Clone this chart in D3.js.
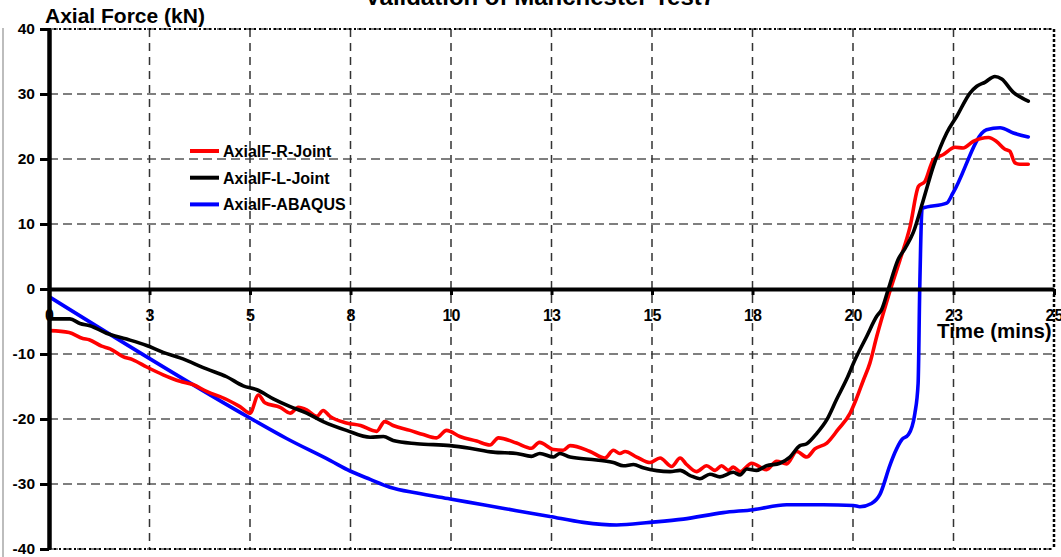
<!DOCTYPE html>
<html>
<head>
<meta charset="utf-8">
<script src="https://cdn.jsdelivr.net/npm/d3@7"></script>
<style>
  html, body { margin: 0; padding: 0; background: #fff; }
  svg { display: block; font-family: "Liberation Sans", Arial, sans-serif; }
</style>
</head>
<body>
<svg id="chart" width="1061" height="557"></svg>
<script>
// Axial force in the joints against fire time (minutes)
const rTime  = [0.02,0.5,0.84,1.0,1.31,1.52,1.84,2.09,2.43,2.84,3.26,3.58,3.92,4.42,4.75,5.0,5.21,5.37,5.75,6.0,6.2,6.41,6.66,6.82,6.99,7.4,7.75,8.15,8.35,8.56,8.98,9.31,9.64,9.89,10.22,10.64,10.97,11.18,11.63,12.0,12.2,12.55,12.79,12.96,13.46,13.83,14.04,14.2,14.33,14.62,14.95,15.2,15.49,15.7,15.86,16.11,16.36,16.57,16.73,16.9,17.02,17.19,17.48,17.85,18.1,18.35,18.6,18.85,19.05,19.35,19.63,19.93,20.09,20.26,20.42,20.59,20.75,20.88,21.17,21.42,21.63,21.79,22.0,22.25,22.54,22.74,22.99,23.37,23.57,23.78,23.9,24.03,24.15,24.36];
const rForce = [-6.4,-6.7,-7.6,-7.8,-8.8,-9.2,-10.4,-10.9,-12.0,-13.2,-14.2,-14.7,-15.75,-17.0,-18.1,-19.1,-16.3,-17.5,-18.2,-19.1,-18.2,-18.6,-19.6,-18.7,-19.6,-20.6,-21.0,-21.9,-20.4,-21.0,-21.75,-22.4,-22.9,-21.75,-22.7,-23.4,-24.0,-22.9,-23.7,-24.5,-23.6,-24.7,-24.8,-24.1,-25.0,-26.0,-24.8,-25.3,-25.0,-25.85,-26.7,-26.0,-27.3,-26.0,-27.0,-28.1,-27.2,-27.9,-27.2,-27.9,-27.4,-28.1,-26.8,-27.8,-26.5,-26.9,-25.0,-25.85,-24.6,-23.7,-21.6,-19.1,-16.8,-14.0,-11.4,-7.3,-3.8,-1.1,4.5,9.6,15.8,16.55,19.9,20.7,21.8,21.7,22.7,23.3,22.7,21.5,21.2,19.4,19.2,19.2];

const lTime  = [0.02,0.52,0.77,1.02,1.43,1.93,2.43,2.84,3.26,3.92,4.42,4.83,5.17,5.58,6.0,6.41,6.82,7.4,7.99,8.32,8.56,9.15,9.98,10.47,11.05,11.63,12.0,12.21,12.55,12.71,12.96,13.62,14.04,14.29,14.54,14.78,15.45,15.7,15.95,16.19,16.44,16.69,17.02,17.19,17.36,17.6,17.85,18.18,18.43,18.68,18.85,19.1,19.35,19.59,19.84,20.05,20.34,20.59,20.71,20.88,21.12,21.3,21.5,21.75,22.0,22.33,22.58,22.91,23.08,23.28,23.53,23.7,23.99,24.2,24.36];
const lForce = [-4.6,-4.6,-5.3,-5.65,-6.8,-7.7,-8.7,-9.75,-10.6,-12.3,-13.5,-14.9,-15.5,-16.9,-18.1,-19.1,-20.4,-21.75,-22.8,-22.7,-23.3,-23.8,-24.1,-24.5,-25.1,-25.3,-25.75,-25.3,-25.85,-25.3,-25.85,-26.3,-26.7,-27.2,-27.0,-27.5,-28.1,-27.9,-28.7,-29.2,-28.5,-28.9,-28.2,-28.6,-27.7,-27.9,-27.2,-26.8,-25.85,-24.1,-23.8,-22.2,-20.1,-17.0,-13.9,-10.9,-7.3,-4.2,-3.2,0.0,4.5,6.3,8.7,13.7,18.9,24.0,26.55,30.15,31.2,31.8,32.7,32.3,30.25,29.4,28.9];

const aTime  = [0.02,5.0,5.91,7.0,7.49,7.99,8.48,9.15,9.98,10.8,11.63,12.46,13.29,14.12,14.95,15.78,16.77,17.52,18.35,19.26,20.01,20.17,20.46,20.67,20.92,21.04,21.21,21.38,21.54,21.62,21.66,21.72,22.33,22.49,23.32,23.66,23.99,24.36];
const aForce = [-1.25,-19.85,-23.0,-26.4,-28.0,-29.3,-30.5,-31.4,-32.3,-33.2,-34.1,-35.0,-35.9,-36.3,-35.9,-35.4,-34.4,-33.95,-33.2,-33.2,-33.3,-33.5,-33.0,-31.6,-27.1,-25.2,-23.2,-22.4,-19.1,-14.5,0.0,12.4,13.2,14.8,24.5,24.8,24.0,23.4];

const seriesNames  = ["AxialF-R-Joint", "AxialF-L-Joint", "AxialF-ABAQUS"];
const seriesColors = ["#ff0000", "#000000", "#0000ff"];

const xTickValues = [0, 2.5, 5, 7.5, 10, 12.5, 15, 17.5, 20, 22.5, 25];
const xTickLabels = ["0", "3", "5", "8", "10", "13", "15", "18", "20", "23", "25"];
const yTickValues = [-40, -30, -20, -10, 0, 10, 20, 30, 40];
const yTickLabels = ["-40", "-30", "-20", "-10", "0", "10", "20", "30", "40"];

const svg = d3.select("#chart");
const x = d3.scaleLinear().domain([0, 25]).range([49, 1054]);
const y = d3.scaleLinear().domain([-40, 40]).range([549, 29]);

// faint frame edge on the left
svg.append("line").attr("x1", 3).attr("x2", 3).attr("y1", 28).attr("y2", 557)
  .attr("stroke", "#bdbdbd").attr("stroke-width", 2);

// dashed grid
const grid = svg.append("g");
grid.selectAll("line.h").data(yTickValues.filter(v => v !== 0)).join("line")
  .attr("x1", x(0)).attr("x2", x(25))
  .attr("y1", d => y(d)).attr("y2", d => y(d))
  .attr("stroke", "#555").attr("stroke-width", 1.5).attr("stroke-dasharray", "9,5");
grid.selectAll("line.v").data(xTickValues.filter(v => v > 0 && v < 25)).join("line")
  .attr("x1", d => x(d)).attr("x2", d => x(d))
  .attr("y1", y(40)).attr("y2", y(-40))
  .attr("stroke", "#333").attr("stroke-width", 1.5).attr("stroke-dasharray", "8,6");

// dotted plot-area border (top, bottom, right)
const border = svg.append("g").attr("stroke", "#000").attr("fill", "none");
border.append("line").attr("x1", x(0)).attr("x2", x(25)).attr("y1", y(40)).attr("y2", y(40))
  .attr("stroke-width", 2).attr("stroke-dasharray", "2,3");
border.append("line").attr("x1", x(0)).attr("x2", x(25)).attr("y1", y(-40)).attr("y2", y(-40))
  .attr("stroke-width", 2).attr("stroke-dasharray", "2,3");
border.append("line").attr("x1", x(25)).attr("x2", x(25)).attr("y1", y(40)).attr("y2", y(-40))
  .attr("stroke-width", 2.5).attr("stroke-dasharray", "3,2");

// series lines
const line = d3.line().x(d => x(d[0])).y(d => y(d[1])).curve(d3.curveMonotoneX);
const series = [
  d3.zip(rTime, rForce),
  d3.zip(lTime, lForce),
  d3.zip(aTime, aForce)
];
[2, 0, 1].forEach(i => {
  svg.append("path").datum(series[i])
    .attr("d", line).attr("fill", "none")
    .attr("stroke", seriesColors[i]).attr("stroke-width", 3.6)
    .attr("stroke-linejoin", "round").attr("stroke-linecap", "round");
});

// x axis through zero
const xAxis = svg.append("g").attr("transform", `translate(0,${y(0)})`)
  .call(d3.axisBottom(x).tickValues(xTickValues)
    .tickFormat((d, i) => xTickLabels[i]).tickSize(6).tickSizeOuter(0).tickPadding(15));
xAxis.select(".domain").attr("stroke", "#000").attr("stroke-width", 4);
xAxis.selectAll(".tick line").attr("stroke", "#000").attr("stroke-width", 3);
xAxis.selectAll(".tick text").attr("font-size", 16).attr("font-weight", "bold").attr("fill", "#000")
  .attr("font-family", "Liberation Sans, Arial, sans-serif");

// y axis
const yAxis = svg.append("g").attr("transform", `translate(${x(0)},0)`)
  .call(d3.axisLeft(y).tickValues(yTickValues)
    .tickFormat((d, i) => yTickLabels[i]).tickSize(9).tickSizeOuter(0).tickPadding(5));
yAxis.select(".domain").attr("stroke", "#000").attr("stroke-width", 4.5);
yAxis.selectAll(".tick line").attr("stroke", "#000").attr("stroke-width", 3);
yAxis.selectAll(".tick text").attr("font-size", 15.5).attr("font-weight", "bold").attr("fill", "#000")
  .attr("font-family", "Liberation Sans, Arial, sans-serif");

// titles
svg.append("text").attr("x", 540).attr("y", 5).attr("text-anchor", "middle")
  .attr("font-size", 24).attr("font-weight", "bold").text("Validation of Manchester Test7");
svg.append("text").attr("x", 45).attr("y", 23)
  .attr("font-size", 21).attr("font-weight", "bold").text("Axial Force (kN)");
svg.append("text").attr("x", 937).attr("y", 338)
  .attr("font-size", 20.5).attr("font-weight", "bold").text("Time (mins)");

// legend
const legend = svg.append("g");
seriesNames.forEach((name, i) => {
  const ly = 151 + i * 26.7;
  legend.append("line").attr("x1", 190).attr("x2", 219).attr("y1", ly).attr("y2", ly)
    .attr("stroke", seriesColors[i]).attr("stroke-width", 4);
  legend.append("text").attr("x", 223).attr("y", ly + 6)
    .attr("font-size", 16).attr("font-weight", "bold").text(name);
});
</script>
</body>
</html>
